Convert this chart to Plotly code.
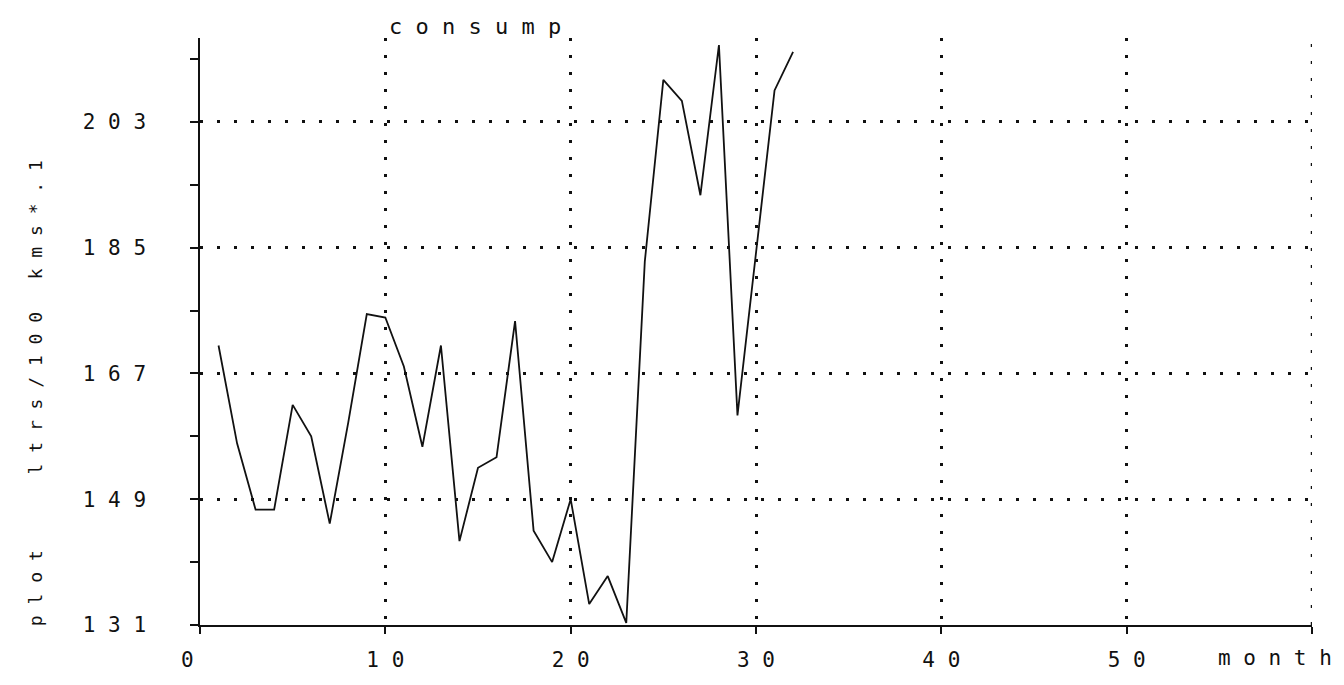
import plotly.graph_objects as go

NB = "\u00a0"

# ---- data ----
months = list(range(1, 33))
consump = [171, 157, 147.5, 147.5, 162.5, 158, 145.5, 160, 175.5, 175,
           168, 156.5, 171, 143, 153.5, 155, 174.5, 144.5, 140, 149,
           134, 138, 131.3, 183, 209, 206, 192.5, 214, 161, 184,
           207.5, 213]

x_ticks = [0, 10, 20, 30, 40, 50, 60]
x_labels = ["0", "10", "20", "30", "40", "50", ""]
y_major = [131, 149, 167, 185, 203]
y_minor = [140, 158, 176, 194, 212]
y_all = sorted(y_major + y_minor)

title_text = "consump"
x_title = "month"
y_title = "plot   ltrs/100 kms*.1"

x_range = [0, 60]
y_range = [131, 215]


def spaced(s, width=None):
    """Widen text like the plotter font: a space after every character."""
    if width is not None:
        s = s.ljust(width)
    return NB.join(ch if ch != " " else NB for ch in s)


FONT = "DejaVu Sans Mono"
INK = "#111111"

fig = go.Figure()
fig.add_trace(go.Scatter(
    x=months, y=consump, mode="lines",
    line=dict(color=INK, width=1.8, shape="linear"),
    hoverinfo="skip", showlegend=False,
))

grid_dash = "3px,14px"

fig.update_layout(
    width=1336, height=677,
    margin=dict(l=192, r=32, t=30, b=60),
    paper_bgcolor="white", plot_bgcolor="white",
    showlegend=False,
    xaxis=dict(
        range=x_range, tickmode="array", tickvals=x_ticks,
        ticktext=[spaced(t, 2) for t in x_labels],
        ticks="outside", ticklen=7, tickwidth=1.5, tickcolor=INK,
        showline=True, linecolor=INK, linewidth=1.5,
        showgrid=True, gridcolor=INK, gridwidth=2.5, griddash=grid_dash,
        zeroline=False, ticklabelstandoff=8,
        tickfont=dict(family=FONT, size=21, color=INK),
    ),
    xaxis2=dict(
        range=x_range, overlaying="x", side="bottom", anchor="y",
        tickmode="array", tickvals=x_ticks, showticklabels=False,
        ticks="inside", ticklen=7, tickwidth=1.5, tickcolor=INK,
        showline=False, showgrid=False, zeroline=False,
    ),
    yaxis=dict(
        range=y_range, tickmode="array", tickvals=y_major,
        ticktext=[spaced(str(v)) for v in y_major],
        ticks="outside", ticklen=8, tickwidth=1.5, tickcolor=INK,
        minor=dict(tickmode="array", tickvals=y_minor, ticks="outside",
                   ticklen=8, tickwidth=1.5, tickcolor=INK, showgrid=False),
        showline=True, linecolor=INK, linewidth=1.5,
        showgrid=True, gridcolor=INK, gridwidth=2.5, griddash=grid_dash,
        zeroline=False, ticklabelstandoff=40,
        tickfont=dict(family=FONT, size=21, color=INK),
    ),
    yaxis2=dict(
        range=y_range, overlaying="y", side="left", anchor="x",
        tickmode="array", tickvals=y_all, showticklabels=False,
        ticks="inside", ticklen=8, tickwidth=1.5, tickcolor=INK,
        showline=False, showgrid=False, zeroline=False,
    ),
)

# grid line at the last x tick (plotly drops grid lines on the plot edge)
fig.add_shape(
    type="line", xref="x", yref="paper",
    x0=x_ticks[-1], x1=x_ticks[-1], y0=0, y1=1,
    line=dict(color=INK, width=2.5, dash=grid_dash), layer="below",
)

fig.add_annotation(
    text=spaced(title_text), xref="paper", yref="paper",
    x=0.247, y=1.0, yshift=12, xanchor="center", yanchor="middle",
    showarrow=False, font=dict(family=FONT, size=22, color=INK),
)
fig.add_annotation(
    text=spaced(x_title), xref="paper", yref="paper",
    x=0.967, y=0.0, yshift=-33, xanchor="center", yanchor="middle",
    showarrow=False, font=dict(family=FONT, size=21, color=INK),
)
fig.add_annotation(
    text=spaced(y_title), xref="paper", yref="paper",
    x=0.0, xshift=-165, y=0.395, xanchor="center", yanchor="middle",
    textangle=-90, showarrow=False,
    font=dict(family=FONT, size=18, color=INK),
)

fig.write_html("out.html")
